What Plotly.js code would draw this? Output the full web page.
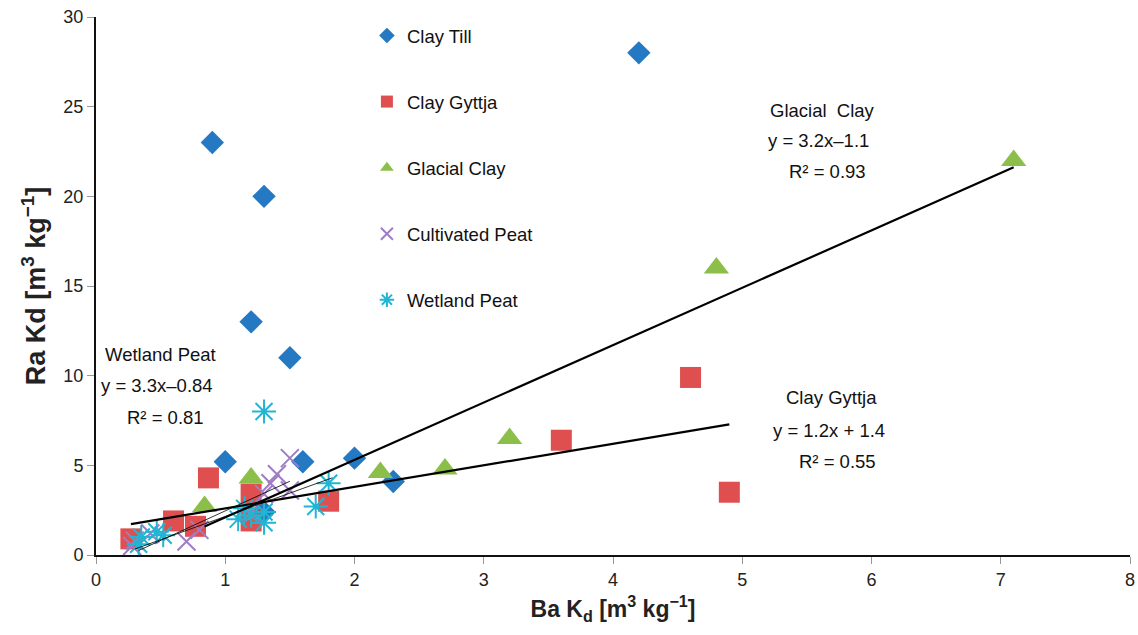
<!DOCTYPE html>
<html>
<head>
<meta charset="utf-8">
<script src="https://cdn.plot.ly/plotly-3.0.1.min.js"></script>
<style>html,body{margin:0;padding:0;background:#fff;}#chart{width:1138px;height:635px;}</style>
</head>
<body>
<div id="chart"></div>
<script>
// Clay Till
const clayTillX = [4.2, 0.9, 1.3, 1.2, 1.5, 1.0, 1.6, 2.0, 2.3, 1.3];
const clayTillY = [28, 23, 20, 13, 11, 5.2, 5.2, 5.4, 4.1, 2.4];
// Clay Gyttja
const clayGyttjaX = [0.27, 0.6, 0.77, 0.87, 1.2, 1.2, 1.8, 3.6, 4.6, 4.9];
const clayGyttjaY = [0.9, 1.9, 1.6, 4.3, 3.4, 1.9, 3.0, 6.4, 9.9, 3.5];
// Glacial Clay
const glacialClayX = [7.1, 4.8, 3.2, 2.7, 2.2, 1.2, 0.84];
const glacialClayY = [22, 16, 6.5, 4.8, 4.6, 4.3, 2.7];
// Cultivated Peat
const cultPeatX = [0.3, 0.28, 0.42, 0.7, 0.8, 1.2, 1.3, 1.35, 1.4, 1.5, 1.5];
const cultPeatY = [0.8, 0.5, 1.2, 0.75, 1.4, 2.4, 3.4, 4.0, 4.5, 5.4, 3.6];
// Wetland Peat
const wetPeatX = [0.33, 0.35, 0.47, 0.52, 1.1, 1.15, 1.2, 1.3, 1.3, 1.3, 1.7, 1.8];
const wetPeatY = [0.6, 1.0, 1.3, 1.1, 2.0, 2.6, 2.2, 1.8, 2.4, 8.0, 2.7, 4.0];

// Trend lines: slope, intercept, x range
const trendNames = ["Glacial Clay fit", "Clay Gyttja fit", "Wetland Peat fit", "Cultivated Peat fit"];
const trendSlopes = [3.2, 1.2, 3.3, 2.6];
const trendIntercepts = [-1.1, 1.4, -0.84, -0.45];
const trendXStart = [0.84, 0.27, 0.33, 0.3];
const trendXEnd = [7.1, 4.9, 1.5, 1.83];
const trendWidths = [2.2, 2.2, 0.8, 0.8];

const xTicks = [0, 1, 2, 3, 4, 5, 6, 7, 8];
const yTicks = [0, 5, 10, 15, 20, 25, 30];

const FONT = "Liberation Sans, Arial, sans-serif";
const NARROW = "Liberation Sans Narrow, Arial Narrow, " + FONT;

const traces = [
  {name: "Clay Till", x: clayTillX, y: clayTillY, mode: "markers", type: "scatter",
   marker: {symbol: "diamond", size: 18, color: "#2479c2"}},
  {name: "Clay Gyttja", x: clayGyttjaX, y: clayGyttjaY, mode: "markers", type: "scatter",
   marker: {symbol: "square", size: 21, color: "#df4f4f"}},
  {name: "Glacial Clay", x: glacialClayX, y: glacialClayY, mode: "markers", type: "scatter",
   marker: {symbol: "triangle-up", size: 22, color: "#8cbf4a"}},
  {name: "Cultivated Peat", x: cultPeatX, y: cultPeatY, mode: "markers", type: "scatter",
   marker: {symbol: "x-thin-open", size: 18, color: "#a07cc4", line: {width: 2, color: "#a07cc4"}}},
  {name: "Wetland Peat", x: wetPeatX, y: wetPeatY, mode: "markers", type: "scatter",
   marker: {symbol: "asterisk-open", size: 20, color: "#22b5d3", line: {width: 2, color: "#22b5d3"}}}
];
traces.forEach((t, i) => { t.legendgroup = "g" + i; });

for (let i = 0; i < trendNames.length; i++) {
  const xs = [trendXStart[i], trendXEnd[i]];
  traces.push({
    name: trendNames[i], x: xs, y: xs.map(v => trendSlopes[i] * v + trendIntercepts[i]),
    mode: "lines", type: "scatter", showlegend: false, hoverinfo: "skip",
    line: {color: "#000", width: trendWidths[i]}
  });
}

const ann = (x, y, text) => ({x: x, y: y, xref: "x", yref: "y", text: text, showarrow: false,
  font: {family: FONT, size: 18.5, color: "#111"}, xanchor: "center", yanchor: "middle"});

const layout = {
  width: 1138, height: 635,
  margin: {l: 96, r: 8, t: 17, b: 80},
  paper_bgcolor: "#fff", plot_bgcolor: "#fff",
  font: {family: FONT, size: 16, color: "#222"},
  showlegend: true,
  legend: {x: 0.262, y: 1.0, xanchor: "left", yanchor: "top", bgcolor: "rgba(0,0,0,0)",
    font: {family: FONT, size: 18.5, color: "#111"}, tracegroupgap: 39, traceorder: "grouped",
    itemsizing: "constant"},
  xaxis: {range: [0, 8], tickvals: xTicks, ticktext: xTicks.map(String),
    showgrid: false, zeroline: false, showline: true, linecolor: "#111", linewidth: 2,
    ticks: "outside", ticklen: 7, tickcolor: "#999", tickwidth: 1,
    tickfont: {family: NARROW, size: 18, color: "#222"},
    title: {text: "<b>Ba K<sub>d</sub> [m<sup>3</sup> kg<sup>−1</sup>]</b>", standoff: 12,
      font: {family: NARROW, size: 23, color: "#222"}}},
  yaxis: {range: [0, 30], tickvals: yTicks, ticktext: yTicks.map(String),
    showgrid: false, zeroline: false, showline: true, linecolor: "#111", linewidth: 2,
    ticks: "outside", ticklen: 7, tickcolor: "#999", tickwidth: 1,
    tickfont: {family: FONT, size: 18, color: "#222"},
    title: {text: "<b>Ra Kd [m<sup>3</sup> kg<sup>−1</sup>]</b>", standoff: 10,
      font: {family: FONT, size: 27, color: "#222"}}},
  annotations: [
    ann(5.62, 24.8, "Glacial  Clay"), ann(5.59, 23.1, "y = 3.2x–1.1"), ann(5.66, 21.4, "R² = 0.93"),
    ann(5.69, 8.8, "Clay Gyttja"), ann(5.67, 6.97, "y = 1.2x + 1.4"), ann(5.74, 5.19, "R² = 0.55"),
    ann(0.50, 11.2, "Wetland Peat"), ann(0.47, 9.43, "y = 3.3x–0.84"), ann(0.54, 7.64, "R² = 0.81")
  ]
};

Plotly.newPlot("chart", traces, layout, {displayModeBar: false, staticPlot: true});
</script>
</body>
</html>
